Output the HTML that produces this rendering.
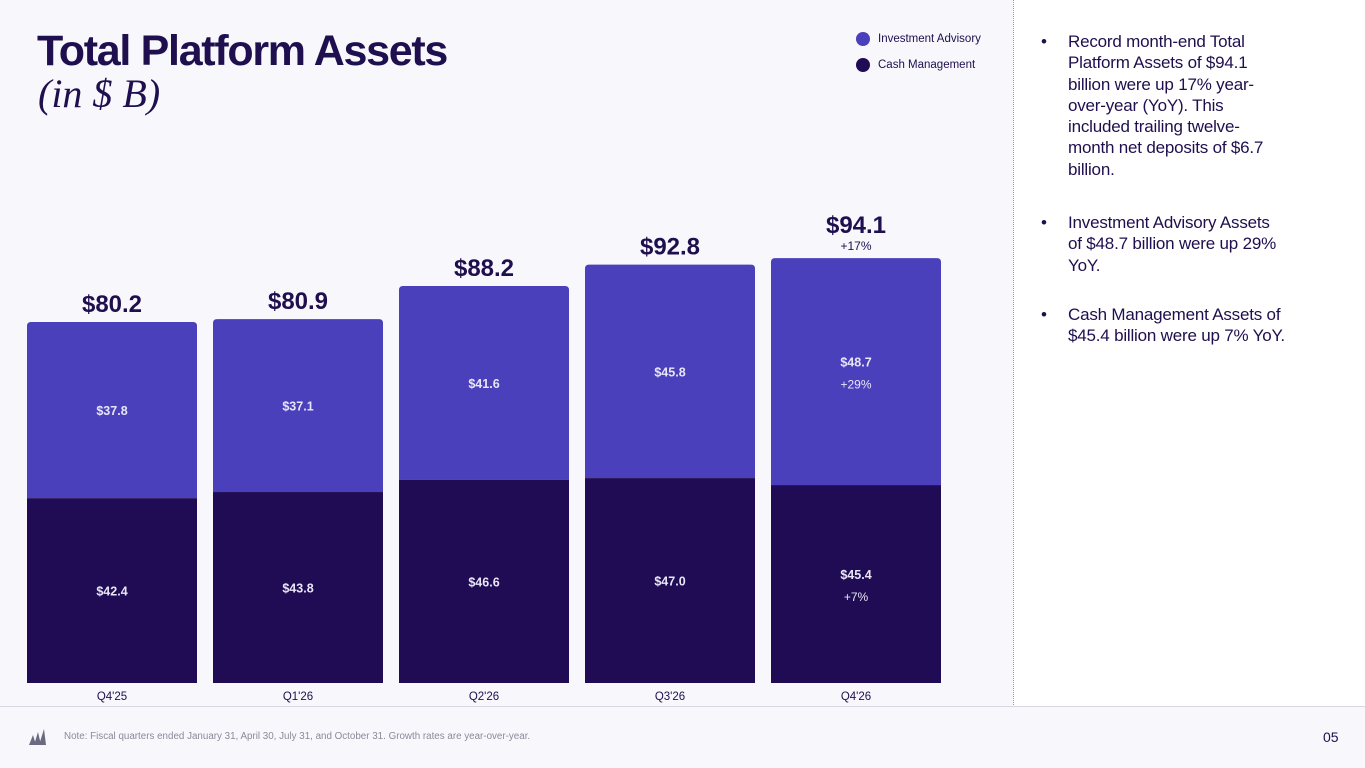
<!DOCTYPE html>
<html><head><meta charset="utf-8"><style>
body{margin:0;width:1365px;height:768px;overflow:hidden;background:#f7f7fc;font-family:"Liberation Sans",sans-serif;color:#1f0f4e;position:relative}
.abs{position:absolute}
#right{left:1013px;top:0;width:352px;height:707px;background:#fff;border-left:1px dotted #9a98b0}
.bul{position:absolute;left:1068px;font-size:17px;line-height:21.3px;color:#1f0f4e;width:290px;white-space:nowrap;letter-spacing:-0.2px}
.bul:before{content:"•";position:absolute;left:-27px}
</style></head><body>
<div id="right" class="abs"></div>
<div class="abs" style="left:37px;top:27px;font-size:43px;font-weight:bold;letter-spacing:-1.3px">Total Platform Assets</div>
<div class="abs" style="left:38px;top:70px;font-size:40px;font-style:italic;font-family:'Liberation Serif',serif">(in $ B)</div>
<div class="abs" style="left:856px;top:32px;font-size:11.5px"><span style="display:inline-block;width:14px;height:14px;border-radius:7px;background:#4a40bc;vertical-align:middle;margin-right:8px"></span>Investment Advisory</div>
<div class="abs" style="left:856px;top:58px;font-size:11.5px"><span style="display:inline-block;width:14px;height:14px;border-radius:7px;background:#200c54;vertical-align:middle;margin-right:8px"></span>Cash Management</div>
<div class="bul" style="top:31px">Record month-end Total<br>Platform Assets of $94.1<br>billion were up 17% year-<br>over-year (YoY). This<br>included trailing twelve-<br>month net deposits of $6.7<br>billion.</div>
<div class="bul" style="top:212px">Investment Advisory Assets<br>of $48.7 billion were up 29%<br>YoY.</div>
<div class="bul" style="top:304px">Cash Management Assets of<br>$45.4 billion were up 7% YoY.</div>
<div class="abs" style="left:0;top:706px;width:1365px;height:1px;background:#d8d8e2"></div>
<svg class="abs" style="left:27px;top:727px" width="22" height="20"><path d="M2 18 L6 8 L9 18Z M7 18 L11 5 L14 18Z M12 18 L17 2 L19 18Z" fill="#6a6a80"/></svg>
<div class="abs" style="left:64px;top:731px;font-size:9.8px;color:#8a8a9a">Note: Fiscal quarters ended January 31, April 30, July 31, and October 31. Growth rates are year-over-year.</div>
<div class="abs" style="left:1323px;top:729px;font-size:14px">05</div>
<svg id="chart" class="abs" style="left:0;top:0" width="1010" height="706"></svg>
<script>
const categories=["Q4'25","Q1'26","Q2'26","Q3'26","Q4'26"];
const cashValues=[42.4,43.8,46.6,47.0,45.4];
const advisoryValues=[37.8,37.1,41.6,45.8,48.7];
const totalValues=[80.2,80.9,88.2,92.8,94.1];
const totalGrowth=["","","","","+17%"];
const advisoryGrowth=["","","","","+29%"];
const cashGrowth=["","","","","+7%"];
const NS="http://www.w3.org/2000/svg";
const svg=document.getElementById('chart');
const base=683,x0=27,step=186,bw=170;
const xPos=i=>x0+i*step;
const yCash=v=>v*4.36;
const yAdv=v=>v*4.66;
function mk(t,a){const e=document.createElementNS(NS,t);for(const k in a)e.setAttribute(k,a[k]);svg.appendChild(e);return e;}
function txt(x,y,s,size,w,fill){const e=mk('text',{x:x,y:y,'text-anchor':'middle','font-size':size,'font-weight':w,fill:fill,'font-family':'Liberation Sans, sans-serif'});e.textContent=s;return e;}
categories.forEach((c,i)=>{
  const x=xPos(i),hc=yCash(cashValues[i]),ha=yAdv(advisoryValues[i]);
  const cx=x+bw/2,ct=base-hc,at=ct-ha;
  const a=mk('path',{d:`M${x} ${ct} V${at+4} Q${x} ${at} ${x+4} ${at} H${x+bw-4} Q${x+bw} ${at} ${x+bw} ${at+4} V${ct}Z`,fill:'#4a40bc'});
  
  
  const b=mk('rect',{x:x,y:ct,width:bw,height:hc,fill:'#200c54'});
  
  
  let t=txt(cx,(ct+base)/2+5+(cashGrowth[i]?-10:0),'$'+cashValues[i].toFixed(1),12.5,'bold','#e8e6f6');
  
  
  if(cashGrowth[i]){t=txt(cx,(ct+base)/2+17,cashGrowth[i],12,'normal','#e8e6f6');}
  t=txt(cx,(at+ct)/2+5+(advisoryGrowth[i]?-10:0),'$'+advisoryValues[i].toFixed(1),12.5,'bold','#e8e6f6');
  
  
  if(advisoryGrowth[i]){t=txt(cx,(at+ct)/2+17,advisoryGrowth[i],12,'normal','#e8e6f6');}
  const off=totalGrowth[i]?25:10;
  t=txt(cx,at-off,'$'+totalValues[i].toFixed(1),24,'bold','#1f0f4e');
  
  
  if(totalGrowth[i]){t=txt(cx,at-8,totalGrowth[i],12,'normal','#1f0f4e');}
  t=txt(cx,700,c,11.5,'normal','#1f0f4e');
  
  
});
</script>
</body></html>
